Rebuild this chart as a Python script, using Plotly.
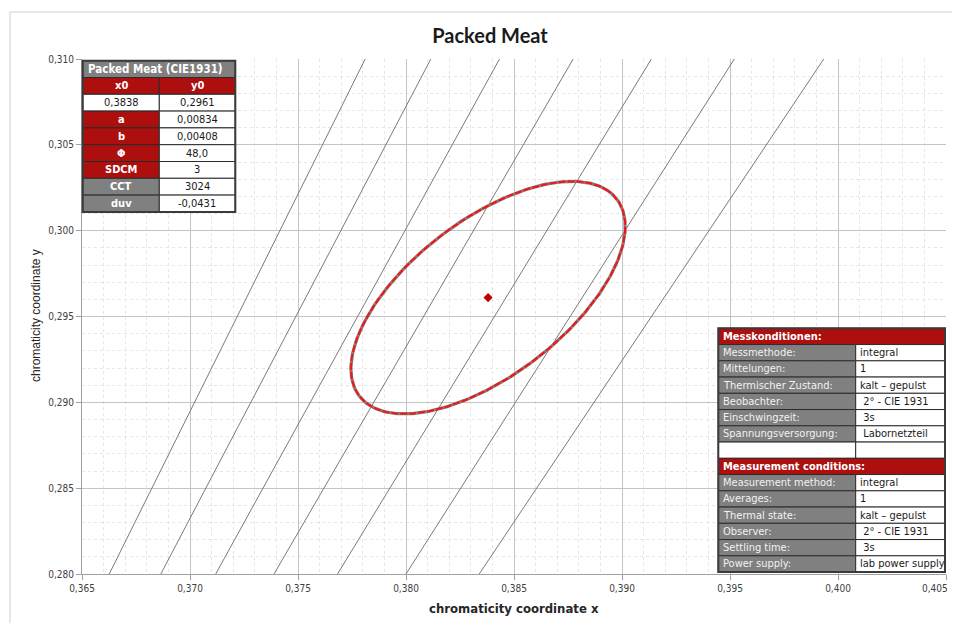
import numpy as np
import plotly.graph_objects as go

# ---------------- data ----------------
iso_y = [0.280, 0.310]
iso_x_bottom = [0.36626, 0.36865, 0.37119, 0.37389, 0.37683, 0.38000, 0.38339]
iso_x_top = [0.37811, 0.38115, 0.38433, 0.38774, 0.39136, 0.39520, 0.39934]

x0 = 0.3838
y0 = 0.2961
a_axis = 0.00834
b_axis = 0.00408
phi_deg = 48.0
sdcm = 3
cct = 3024
duv = -0.0431

param_labels = ["a", "b", "Φ", "SDCM", "CCT", "duv"]
param_values = ["0,00834", "0,00408", "48,0", "3", "3024", "-0,0431"]

de_labels = ["Messmethode:", "Mittelungen:", "Thermischer Zustand:", "Beobachter:",
             "Einschwingzeit:", "Spannungsversorgung:"]
de_values = ["integral", "1", "kalt – gepulst", " 2° - CIE 1931", " 3s", " Labornetzteil"]
en_labels = ["Measurement method:", "Averages:", "Thermal state:", "Observer:",
             "Settling time:", "Power supply:"]
en_values = ["integral", "1", "kalt – gepulst", " 2° - CIE 1931", " 3s", "lab power supply"]

x_ticks = [0.365, 0.370, 0.375, 0.380, 0.385, 0.390, 0.395, 0.400, 0.405]
y_ticks = [0.280, 0.285, 0.290, 0.295, 0.300, 0.305, 0.310]
x_range = [0.365, 0.405]
y_range = [0.280, 0.310]

# ---------------- styling ----------------
RED = "#ad0f0f"
GRAY = "#808080"
BORDER = "#2b2b2b"
TFONT = "DejaVu Sans Condensed, Liberation Sans Narrow, sans-serif"
TICKFONT = dict(family=TFONT, size=10, color="#404040")

OFF = 8  # page body margin
WIDTH, HEIGHT = 960 - OFF, 623 - OFF
# plot area in page pixels: x 82..946, y 59..574
L = 82 - OFF
T = 59 - OFF
R = WIDTH - (946 - OFF)
B = HEIGHT - (574 - OFF)
W = WIDTH - L - R
H = HEIGHT - T - B


def PX(px):  # page pixel -> paper
    return (px - OFF - L) / W


def PY(py):
    return (T + H - (py - OFF)) / H


def fmt(v):
    return ("%.3f" % v).replace(".", ",")


fig = go.Figure()

# iso-temperature lines
for xb, xt in zip(iso_x_bottom, iso_x_top):
    fig.add_trace(go.Scatter(x=[xb, xt], y=iso_y, mode="lines",
                             line=dict(color="#7a7a7a", width=1),
                             hoverinfo="skip", showlegend=False))

# ellipse from its parameters
phi = np.deg2rad(phi_deg)
t = np.linspace(0, 2 * np.pi, 361)
ex = x0 + a_axis * np.cos(t) * np.cos(phi) - b_axis * np.sin(t) * np.sin(phi)
ey = y0 + a_axis * np.cos(t) * np.sin(phi) + b_axis * np.sin(t) * np.cos(phi)
fig.add_trace(go.Scatter(x=ex, y=ey, mode="lines",
                         line=dict(color="#808080", width=3.2),
                         hoverinfo="skip", showlegend=False))
fig.add_trace(go.Scatter(x=ex, y=ey, mode="lines",
                         line=dict(color="#ff1010", width=2, dash="7px,2px"),
                         hoverinfo="skip", showlegend=False))
fig.add_trace(go.Scatter(x=[x0], y=[y0], mode="markers",
                         marker=dict(symbol="diamond", size=7, color="#c00000"),
                         hoverinfo="skip", showlegend=False))

shapes = []
annotations = []

# chart area border (Excel-style)
shapes.append(dict(type="rect", xref="paper", yref="paper",
                   x0=PX(10), x1=PX(975), y0=PY(640), y1=PY(12),
                   line=dict(color="#d0d0d0", width=1), fillcolor="rgba(0,0,0,0)",
                   layer="below"))


def cell(px0, px1, py0, py1, fill, lw=1):
    shapes.append(dict(type="rect", xref="paper", yref="paper",
                       x0=PX(px0), x1=PX(px1), y0=PY(py1), y1=PY(py0),
                       fillcolor=fill, line=dict(color=BORDER, width=lw), layer="above"))


def text(s, px, py, color, size=11, bold=False, align="left"):
    annotations.append(dict(xref="paper", yref="paper", x=PX(px), y=PY(py),
                            text=("<b>%s</b>" % s) if bold else s,
                            showarrow=False, xanchor=align, yanchor="middle",
                            font=dict(family=TFONT, size=size, color=color)))


# ---------- left parameter table ----------
lx = [82.7, 159.3, 235.3]
ltop = 60.7
lh = 16.8
rows_l = 9
cell(lx[0], lx[2], ltop, ltop + lh, GRAY)
text("Packed Meat (CIE1931)", lx[0] + 3, ltop + lh / 2, "white", size=11.5, bold=True)
r = 1
for c, s in enumerate(["x0", "y0"]):
    cell(lx[c], lx[c + 1], ltop + r * lh, ltop + (r + 1) * lh, RED)
    text(s, (lx[c] + lx[c + 1]) / 2, ltop + (r + 0.5) * lh, "white", bold=True, align="center")
r = 2
for c, s in enumerate(["%.4f" % x0, "%.4f" % y0]):
    s = s.replace(".", ",")
    cell(lx[c], lx[c + 1], ltop + r * lh, ltop + (r + 1) * lh, "white")
    text(s, (lx[c] + lx[c + 1]) / 2, ltop + (r + 0.5) * lh, "#1a1a1a", align="center")
for i, (lab, val) in enumerate(zip(param_labels, param_values)):
    r = 3 + i
    fill = RED if lab not in ("CCT", "duv") else GRAY
    cell(lx[0], lx[1], ltop + r * lh, ltop + (r + 1) * lh, fill)
    text(lab, (lx[0] + lx[1]) / 2, ltop + (r + 0.5) * lh, "white", bold=True, align="center")
    cell(lx[1], lx[2], ltop + r * lh, ltop + (r + 1) * lh, "white")
    text(val, (lx[1] + lx[2]) / 2, ltop + (r + 0.5) * lh, "#1a1a1a", align="center")
shapes.append(dict(type="rect", xref="paper", yref="paper",
                   x0=PX(lx[0]), x1=PX(lx[2]), y0=PY(ltop + rows_l * lh), y1=PY(ltop),
                   fillcolor="rgba(0,0,0,0)", line=dict(color="#3a3a3a", width=2), layer="above"))

# ---------- right conditions table ----------
rx = [718.3, 855.7, 945.0]
rtop = 328.3
rh = 16.25


def cond_block(start_row, title, labels, values):
    cell(rx[0], rx[2], rtop + start_row * rh, rtop + (start_row + 1) * rh, RED)
    text(title, rx[0] + 3, rtop + (start_row + 0.5) * rh, "white", bold=True)
    for i, (lab, val) in enumerate(zip(labels, values)):
        rr = start_row + 1 + i
        cell(rx[0], rx[1], rtop + rr * rh, rtop + (rr + 1) * rh, GRAY)
        text(lab, rx[0] + 3, rtop + (rr + 0.5) * rh, "#f2f2f2")
        cell(rx[1], rx[2], rtop + rr * rh, rtop + (rr + 1) * rh, "white")
        text(val, rx[1] + 2, rtop + (rr + 0.5) * rh, "#1a1a1a")


cond_block(0, "Messkonditionen:", de_labels, de_values)
cell(rx[0], rx[1], rtop + 7 * rh, rtop + 8 * rh, "white")
cell(rx[1], rx[2], rtop + 7 * rh, rtop + 8 * rh, "white")
cond_block(8, "Measurement conditions:", en_labels, en_values)
shapes.append(dict(type="rect", xref="paper", yref="paper",
                   x0=PX(rx[0]), x1=PX(rx[2]), y0=PY(rtop + 15 * rh), y1=PY(rtop),
                   fillcolor="rgba(0,0,0,0)", line=dict(color="#3a3a3a", width=2), layer="above"))

# last x tick label kept inside the page edge
annotations.append(dict(xref="x", yref="paper", x=x_ticks[-1], y=0, text=fmt(x_ticks[-1]),
                        showarrow=False, xanchor="right", yanchor="top",
                        xshift=4, yshift=-7, font=TICKFONT))

# axis titles
annotations.append(dict(xref="paper", yref="paper", x=PX(514), y=PY(608),
                        text="<b>chromaticity coordinate x</b>", showarrow=False,
                        xanchor="center", yanchor="middle",
                        font=dict(family=TFONT, size=13, color="#262626")))
annotations.append(dict(xref="paper", yref="paper", x=PX(36), y=PY(316),
                        text="chromaticity coordinate y", showarrow=False, textangle=-90,
                        xanchor="center", yanchor="middle",
                        font=dict(family="Liberation Sans, Arial, sans-serif", size=12,
                                  color="#262626")))

fig.update_layout(
    width=WIDTH, height=HEIGHT,
    margin=dict(l=L, r=R, t=T, b=B, autoexpand=False),
    paper_bgcolor="white", plot_bgcolor="white",
    separators=",.",
    title=dict(text="<b>Packed Meat</b>", x=(490 - OFF) / WIDTH, xref="container",
               xanchor="center", y=1 - (36 - OFF) / HEIGHT, yref="container", yanchor="middle",
               font=dict(family="Lato, Open Sans, sans-serif", size=20, color="#1a1a1a")),
    shapes=shapes,
    annotations=annotations,
    showlegend=False,
)

axis_common = dict(showgrid=True, gridcolor="#c4c4c4", gridwidth=1,
                   minor=dict(dtick=0.001, showgrid=True, gridcolor="#e6e6e6", griddash="dot"),
                   showline=True, linecolor="#a0a0a0", linewidth=1,
                   ticks="outside", ticklen=5, tickcolor="#a0a0a0",
                   tickfont=TICKFONT, automargin=False,
                   zeroline=False, fixedrange=True)
fig.update_xaxes(range=[x_range[0], x_range[1] + 1e-9], tickvals=x_ticks,
                 ticktext=[fmt(v) for v in x_ticks[:-1]] + [""], **axis_common)
fig.update_yaxes(range=[y_range[0] - 1e-9, y_range[1] + 1e-9], tickvals=y_ticks,
                 ticktext=[fmt(v) for v in y_ticks], **axis_common)

fig.write_html("out.html")
